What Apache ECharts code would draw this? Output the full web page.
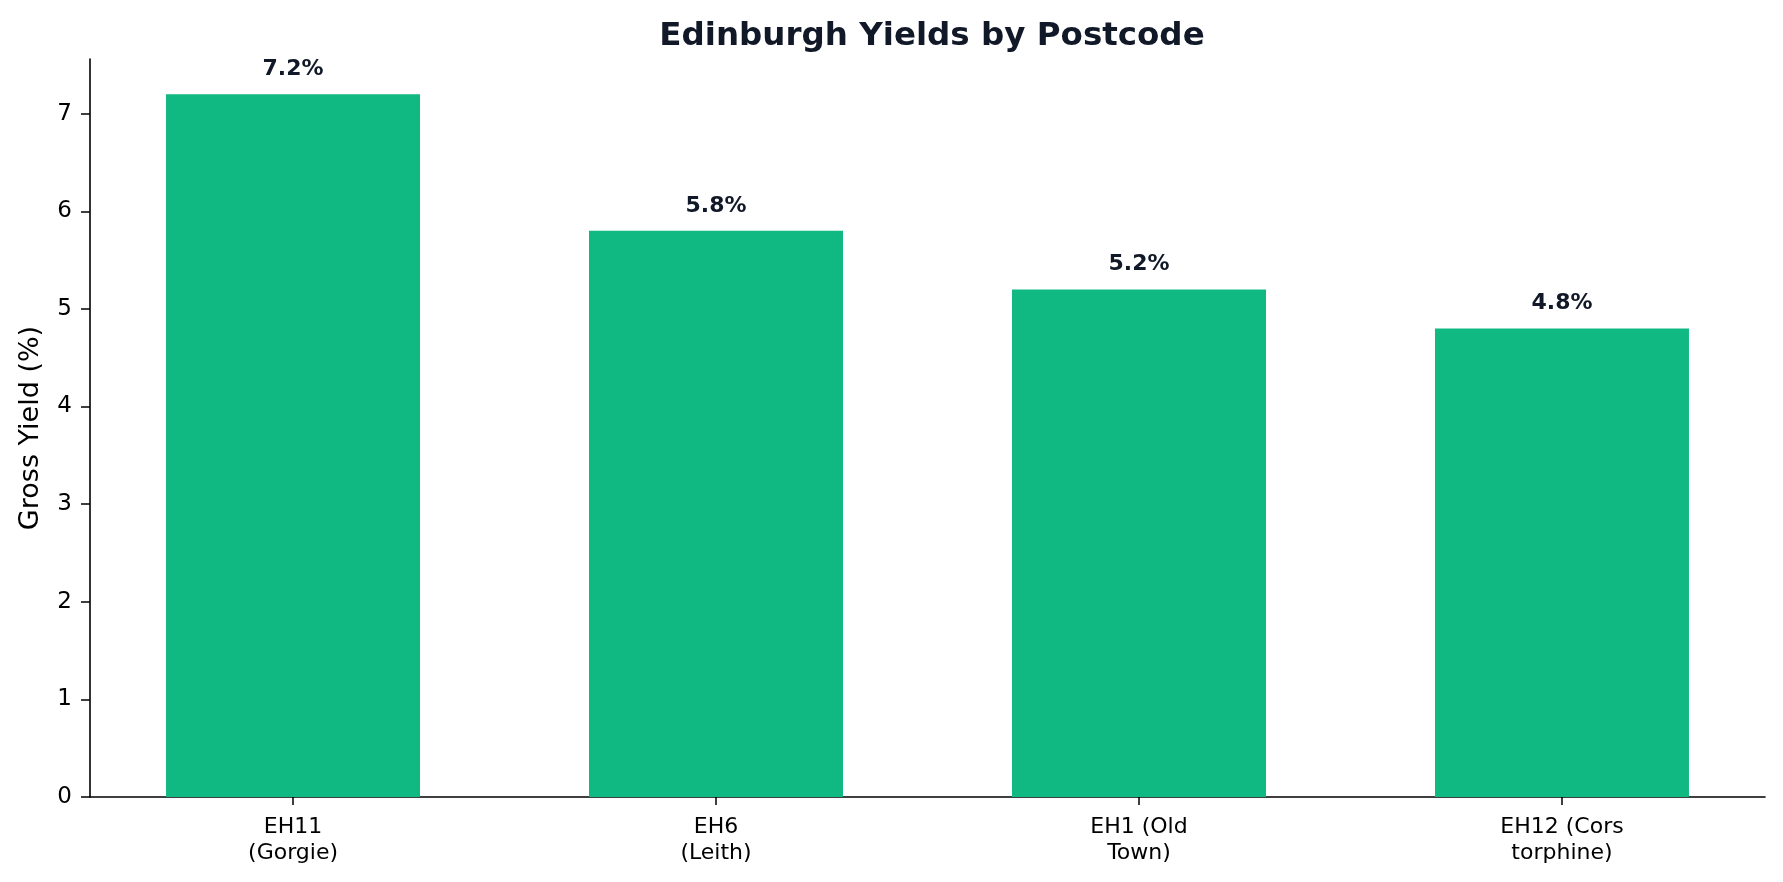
<!DOCTYPE html>
<html>
<head>
<meta charset="utf-8">
<title>Edinburgh Yields by Postcode</title>
<script src="https://cdn.jsdelivr.net/npm/echarts@6/dist/echarts.min.js"></script>
<style>
  html, body { margin: 0; padding: 0; background: #fff; }
  #chart { width: 1783px; height: 882px; }
</style>
</head>
<body>
<div id="chart"></div>
<script>
// data
var postcodes = ['EH11\n(Gorgie)', 'EH6\n(Leith)', 'EH1 (Old\nTown)', 'EH12 (Cors\ntorphine)'];
var yields = [7.2, 5.8, 5.2, 4.8];
var yTicks = [0, 1, 2, 3, 4, 5, 6, 7];
var yMax = 7.56;
var xTicks = postcodes.map(function (p, i) { return i; });

var chart = echarts.init(document.getElementById('chart'), null, { renderer: 'canvas' });

// bars sit on a numeric x axis (index), padded like matplotlib's auto margins
var option = {
  backgroundColor: '#ffffff',
  animation: false,
  textStyle: { fontFamily: 'DejaVu Sans' },
  title: {
    text: 'Edinburgh Yields by Postcode',
    left: 927,
    textAlign: 'center',
    top: 15,
    textStyle: { fontFamily: 'DejaVu Sans', fontWeight: 'bold', fontSize: 32.5, color: '#111827' }
  },
  grid: { left: 90, right: 18, top: 59, bottom: 85, containLabel: false },
  xAxis: {
    type: 'value',
    min: -0.48,
    max: 3.48,
    axisLine: { show: true, onZero: false, lineStyle: { color: '#000', width: 1.6 } },
    axisTick: { show: true, length: 8, lineStyle: { color: '#000', width: 1.5 }, customValues: xTicks },
    axisLabel: {
      color: '#000', fontSize: 22, lineHeight: 26, margin: 17, fontFamily: 'DejaVu Sans',
      customValues: xTicks,
      formatter: function (v) { return postcodes[Math.round(v)]; }
    },
    splitLine: { show: false }
  },
  yAxis: {
    type: 'value',
    min: 0,
    max: yMax,
    interval: 1,
    name: 'Gross Yield (%)',
    nameLocation: 'middle',
    nameGap: 46,
    nameTextStyle: { color: '#000', fontSize: 27, fontFamily: 'DejaVu Sans' },
    axisLine: { show: true, onZero: false, lineStyle: { color: '#000', width: 1.6 } },
    axisTick: { show: true, length: 9, lineStyle: { color: '#000', width: 1.5 }, customValues: yTicks },
    axisLabel: { color: '#000', fontSize: 23, margin: 18, customValues: yTicks },
    splitLine: { show: false }
  },
  series: [
    {
      type: 'bar',
      data: yields.map(function (v, i) { return [i, v]; }),
      barWidth: 254,
      itemStyle: { color: '#10b981' },
      label: {
        show: true,
        position: 'top',
        distance: 14,
        formatter: function (p) { return p.value[1].toFixed(1) + '%'; },
        fontSize: 22,
        fontWeight: 'bold',
        color: '#111827',
        fontFamily: 'DejaVu Sans'
      }
    }
  ]
};

chart.setOption(option);
</script>
</body>
</html>
